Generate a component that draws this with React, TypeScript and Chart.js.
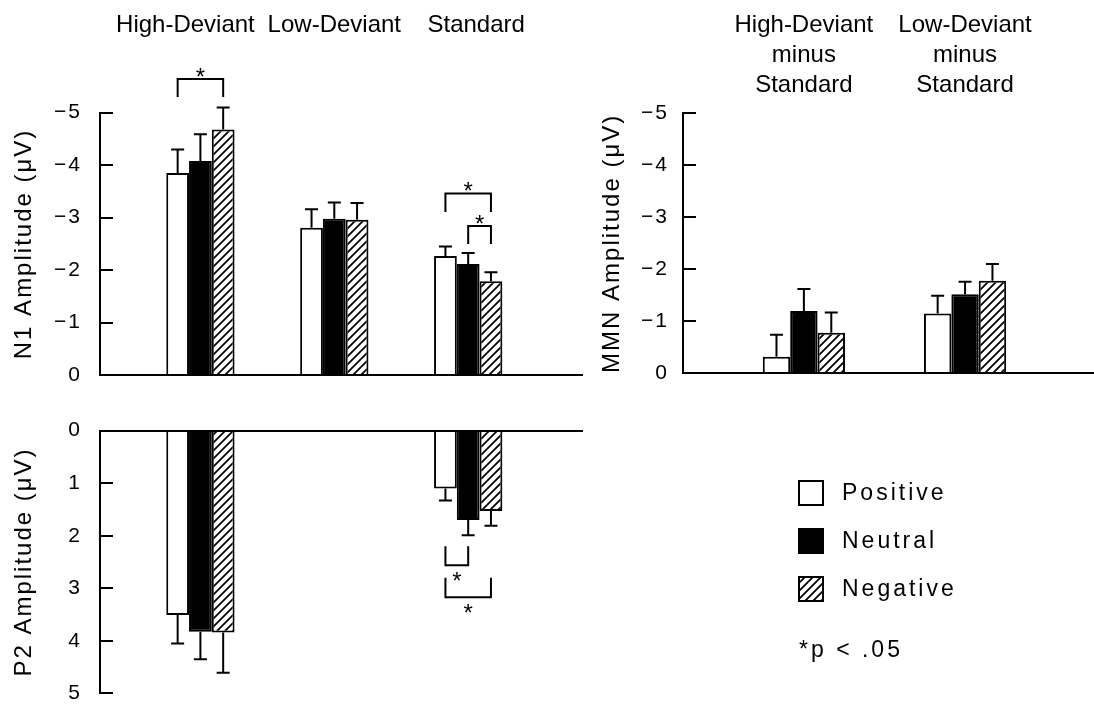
import React, { useEffect, useRef } from 'react';
import { Chart, registerables } from 'chart.js';

Chart.register(...registerables);

const FONT = "'Liberation Sans', Arial, Helvetica, sans-serif";

// ---- Series ----
const seriesLabels = ['Positive', 'Neutral', 'Negative'];

// ---- N1 panel ----
const n1Categories = ['High-Deviant', 'Low-Deviant', 'Standard'];
const n1Positive = [-3.85, -2.81, -2.27];
const n1Neutral = [-4.08, -2.98, -2.12];
const n1Negative = [-4.68, -2.96, -1.79];
const n1PositiveSE = [0.45, 0.35, 0.18];
const n1NeutralSE = [0.51, 0.31, 0.21];
const n1NegativeSE = [0.42, 0.32, 0.17];
const n1TickValues = [-5, -4, -3, -2, -1, 0];
const n1Significance = [
  { group: 0, from: 0, to: 2, line: -5.64, foot: -5.3 },
  { group: 2, from: 0, to: 2, line: -3.46, foot: -3.11 },
  { group: 2, from: 1, to: 2, line: -2.84, foot: -2.5 },
];

// ---- P2 panel ----
const p2Positive = [3.51, null, 1.1];
const p2Neutral = [3.83, null, 1.7];
const p2Negative = [3.84, null, 1.53];
const p2PositiveSE = [0.54, null, 0.23];
const p2NeutralSE = [0.52, null, 0.29];
const p2NegativeSE = [0.77, null, 0.28];
const p2TickValues = [0, 1, 2, 3, 4, 5];
const p2Significance = [
  { group: 2, from: 0, to: 1, line: 2.56, foot: 2.2 },
  { group: 2, from: 0, to: 2, line: 3.17, foot: 2.8 },
];

// ---- MMN panel ----
const mmnCategories = [
  ['High-Deviant', 'minus', 'Standard'],
  ['Low-Deviant', 'minus', 'Standard'],
];
const mmnPositive = [-0.32, -1.15];
const mmnNeutral = [-1.2, -1.52];
const mmnNegative = [-0.78, -1.78];
const mmnPositiveSE = [0.42, 0.34];
const mmnNeutralSE = [0.42, 0.24];
const mmnNegativeSE = [0.39, 0.32];
const mmnTickValues = [-5, -4, -3, -2, -1, 0];

const significanceNote = '*p < .05';

// ---------------------------------------------------------------
function makeHatch(): CanvasPattern | string {
  const c = document.createElement('canvas');
  c.width = 8;
  c.height = 8;
  const g = c.getContext('2d');
  if (!g) return '#fff';
  g.fillStyle = '#fff';
  g.fillRect(0, 0, 8, 8);
  g.strokeStyle = '#000';
  g.lineWidth = 1.8;
  g.beginPath();
  g.moveTo(-1, 9);
  g.lineTo(9, -1);
  g.moveTo(-3, 3);
  g.lineTo(3, -3);
  g.moveTo(5, 11);
  g.lineTo(11, 5);
  g.stroke();
  return g.createPattern(c, 'repeat') || '#fff';
}

const fmtTick = (v: number) => (v < 0 ? '\u2212' + Math.abs(v) : String(v));

const spacingPlugin = {
  id: 'axisSpacing',
  beforeDraw(chart: any) {
    chart.ctx.letterSpacing = '2px';
  },
  beforeDatasetsDraw(chart: any) {
    chart.ctx.letterSpacing = '0px';
  },
};

const innerTicksPlugin = {
  id: 'innerTicks',
  afterDraw(chart: any) {
    const yS = chart.scales.y;
    const { ctx, chartArea } = chart;
    ctx.save();
    ctx.strokeStyle = '#000';
    ctx.lineWidth = 2;
    yS.ticks.forEach((t: any) => {
      const py = Math.round(yS.getPixelForValue(t.value));
      ctx.beginPath();
      ctx.moveTo(chartArea.left, py);
      ctx.lineTo(chartArea.left + 13, py);
      ctx.stroke();
    });
    ctx.restore();
  },
};

const errorBarPlugin = {
  id: 'errorBars',
  afterDatasetsDraw(chart: any) {
    const { ctx } = chart;
    const yS = chart.scales.y;
    ctx.save();
    ctx.strokeStyle = '#000';
    ctx.lineWidth = 2;
    chart.data.datasets.forEach((ds: any, di: number) => {
      const meta = chart.getDatasetMeta(di);
      meta.data.forEach((bar: any, i: number) => {
        const v = ds.data[i].y;
        const e = ds.errors[i];
        if (v == null || e == null) return;
        const tip = v + Math.sign(v) * e;
        const x = bar.x;
        const y1 = yS.getPixelForValue(tip);
        ctx.beginPath();
        ctx.moveTo(x, bar.y);
        ctx.lineTo(x, y1);
        ctx.moveTo(x - 6.5, y1);
        ctx.lineTo(x + 6.5, y1);
        ctx.stroke();
      });
    });
    ctx.restore();
  },
};

function sigPlugin(items: any[]) {
  return {
    id: 'sigBrackets',
    afterDraw(chart: any) {
      const { ctx } = chart;
      const yS = chart.scales.y;
      ctx.save();
      ctx.letterSpacing = '0px';
      ctx.strokeStyle = '#000';
      ctx.fillStyle = '#000';
      ctx.lineWidth = 2;
      ctx.font = `24px ${FONT}`;
      ctx.textAlign = 'center';
      ctx.textBaseline = 'alphabetic';
      items.forEach((s) => {
        const xa = chart.getDatasetMeta(s.from).data[s.group].x;
        const xb = chart.getDatasetMeta(s.to).data[s.group].x;
        const yl = yS.getPixelForValue(s.line);
        const yf = yS.getPixelForValue(s.foot);
        ctx.beginPath();
        ctx.moveTo(xa, yf);
        ctx.lineTo(xa, yl);
        ctx.lineTo(xb, yl);
        ctx.lineTo(xb, yf);
        ctx.stroke();
        const dir = yl < yf ? -1 : 1;
        const cy = yl + dir * (dir < 0 ? 8 : 10.5);
        ctx.fillText('*', (xa + xb) / 2, cy + 0.57 * 24);
      });
      ctx.restore();
    },
  };
}

function headerPlugin(labels: any[], baseline: number, lineGap: number, shifts: number[]) {
  return {
    id: 'groupHeaders',
    afterDraw(chart: any) {
      const { ctx } = chart;
      const xS = chart.scales.x;
      ctx.save();
      ctx.letterSpacing = '0px';
      ctx.fillStyle = '#000';
      ctx.font = `24px ${FONT}`;
      ctx.textAlign = 'center';
      ctx.textBaseline = 'alphabetic';
      labels.forEach((lab, i) => {
        const lines = Array.isArray(lab) ? lab : [lab];
        const x = xS.getPixelForValue(i) + (shifts[i] || 0);
        lines.forEach((ln: string, j: number) => ctx.fillText(ln, x, baseline + j * lineGap));
      });
      ctx.restore();
    },
  };
}

const legendPlugin = {
  id: 'sideLegend',
  afterDraw(chart: any) {
    const { ctx } = chart;
    const left = 208;
    ctx.save();
    ctx.font = `23px ${FONT}`;
    ctx.letterSpacing = '3px';
    ctx.textBaseline = 'middle';
    ctx.textAlign = 'left';
    chart.data.datasets.forEach((ds: any, i: number) => {
      const top = 480 + i * 48;
      ctx.fillStyle = ds.backgroundColor;
      ctx.fillRect(left, top, 26, 26);
      ctx.strokeStyle = '#000';
      ctx.lineWidth = 2;
      ctx.strokeRect(left + 1, top + 1, 24, 24);
      ctx.fillStyle = '#000';
      ctx.fillText(ds.label, left + 44, top + 14);
    });
    ctx.fillText(significanceNote, left + 1, 651);
    ctx.restore();
  },
};

function mkDataset(label: string, values: (number | null)[], errs: (number | null)[], bg: any) {
  return {
    label,
    data: values.map((v, i) => ({ x: i, y: v })),
    errors: errs,
    backgroundColor: bg,
    borderColor: '#000',
    borderWidth: 2,
    borderSkipped: 'start',
  };
}

function mkConfig(o: any) {
  return {
    type: 'bar',
    data: { datasets: o.datasets },
    options: {
      responsive: false,
      animation: false,
      events: [],
      layout: { padding: o.padding },
      datasets: { bar: { categoryPercentage: 0.51, barPercentage: 1 } },
      plugins: {
        legend: { display: false },
        tooltip: { enabled: false },
        title: { display: false },
      },
      scales: {
        x: {
          type: 'linear',
          position: o.xPosition,
          min: -0.75,
          max: o.xMax,
          offset: false,
          grid: { display: false, drawTicks: false },
          border: { display: true, color: '#000', width: 2, z: 1 },
          ticks: { display: false, stepSize: 1, includeBounds: false },
          afterFit: (s: any) => {
            s.height = 0;
            s.paddingLeft = 0;
            s.paddingRight = 0;
          },
        },
        y: {
          type: 'linear',
          position: 'left',
          min: o.yMin,
          max: o.yMax,
          reverse: true,
          grid: { display: false, drawTicks: false },
          border: { display: true, color: '#000', width: 2, z: 1 },
          afterBuildTicks: (s: any) => {
            s.ticks = o.tickValues.map((v: number) => ({ value: v }));
          },
          ticks: {
            color: '#000',
            padding: o.tickPad,
            font: { family: FONT, size: 21 },
            callback: (v: any) => fmtTick(Number(v)),
          },
          title: {
            display: true,
            text: o.title,
            color: '#000',
            font: { family: FONT, size: 24 },
            padding: { top: o.titlePad, bottom: 0 },
          },
          afterFit: (s: any) => {
            s.width = o.yWidth;
            s.paddingTop = 0;
            s.paddingBottom = 0;
          },
        },
      },
    },
    plugins: [spacingPlugin, errorBarPlugin, innerTicksPlugin, ...o.plugins],
  };
}

export default function App() {
  const refA = useRef<HTMLCanvasElement>(null);
  const refB = useRef<HTMLCanvasElement>(null);
  const refC = useRef<HTMLCanvasElement>(null);

  useEffect(() => {
    const hatch = makeHatch();
    const colors = ['#ffffff', '#000000', hatch];
    const charts: Chart[] = [];

    const n1Sets = [
      mkDataset(seriesLabels[0], n1Positive, n1PositiveSE, colors[0]),
      mkDataset(seriesLabels[1], n1Neutral, n1NeutralSE, colors[1]),
      mkDataset(seriesLabels[2], n1Negative, n1NegativeSE, colors[2]),
    ];
    const p2Sets = [
      mkDataset(seriesLabels[0], p2Positive, p2PositiveSE, colors[0]),
      mkDataset(seriesLabels[1], p2Neutral, p2NeutralSE, colors[1]),
      mkDataset(seriesLabels[2], p2Negative, p2NegativeSE, colors[2]),
    ];
    const mmnSets = [
      mkDataset(seriesLabels[0], mmnPositive, mmnPositiveSE, colors[0]),
      mkDataset(seriesLabels[1], mmnNeutral, mmnNeutralSE, colors[1]),
      mkDataset(seriesLabels[2], mmnNegative, mmnNegativeSE, colors[2]),
    ];

    if (refA.current) {
      charts.push(
        new Chart(
          refA.current,
          mkConfig({
            datasets: n1Sets,
            padding: { left: 0, right: 8, top: 112.7, bottom: 24.8 },
            xPosition: 'bottom',
            xMax: 2.85,
            yMin: -5,
            yMax: 0,
            tickValues: n1TickValues,
            tickPad: 18,
            title: 'N1 Amplitude (\u03bcV)',
            titlePad: 9.5,
            yWidth: 100,
            plugins: [sigPlugin(n1Significance), headerPlugin(n1Categories, 32, 0, [-15, 0, 8])],
          }) as any
        )
      );
    }
    if (refB.current) {
      charts.push(
        new Chart(
          refB.current,
          mkConfig({
            datasets: p2Sets,
            padding: { left: 0, right: 8, top: 30.7, bottom: 14.7 },
            xPosition: 'top',
            xMax: 2.85,
            yMin: 0,
            yMax: 5,
            tickValues: p2TickValues,
            tickPad: 18,
            title: 'P2 Amplitude (\u03bcV)',
            titlePad: 9.5,
            yWidth: 100,
            plugins: [sigPlugin(p2Significance)],
          }) as any
        )
      );
    }
    if (refC.current) {
      charts.push(
        new Chart(
          refC.current,
          mkConfig({
            datasets: mmnSets,
            padding: { left: 0, right: 0, top: 113.3, bottom: 334.7 },
            xPosition: 'bottom',
            xMax: 1.8,
            yMin: -5,
            yMax: 0,
            tickValues: mmnTickValues,
            tickPad: 14,
            title: 'MMN Amplitude (\u03bcV)',
            titlePad: 7.8,
            yWidth: 93,
            plugins: [headerPlugin(mmnCategories, 32.3, 29.7, [0, 0]), legendPlugin],
          }) as any
        )
      );
    }
    return () => charts.forEach((c) => c.destroy());
  }, []);

  return (
    <div
      style={{
        position: 'fixed',
        left: 0,
        top: 0,
        width: 1094,
        height: 708,
        background: '#fff',
        overflow: 'hidden',
      }}
    >
      <canvas ref={refA} width={590} height={400} style={{ position: 'absolute', left: 0, top: 0 }} />
      <canvas ref={refB} width={590} height={308} style={{ position: 'absolute', left: 0, top: 400 }} />
      <canvas ref={refC} width={504} height={708} style={{ position: 'absolute', left: 590, top: 0 }} />
    </div>
  );
}
